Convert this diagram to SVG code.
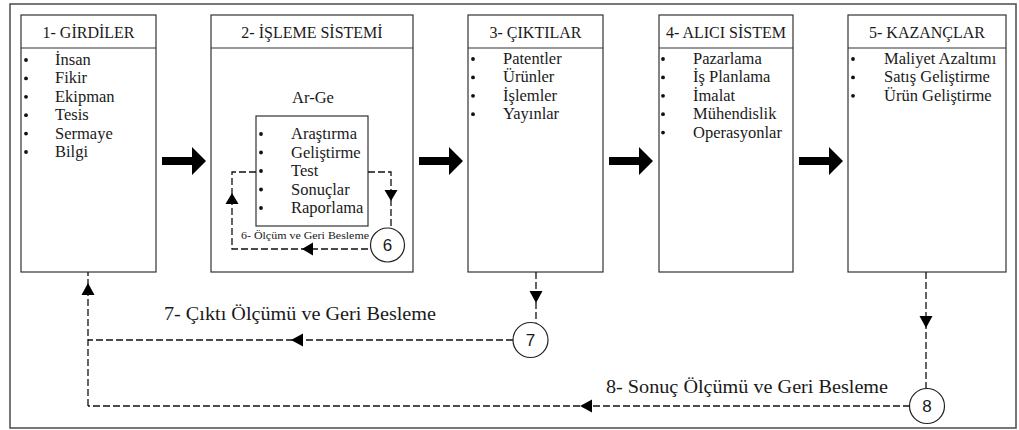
<svg xmlns="http://www.w3.org/2000/svg" width="1019" height="430" viewBox="0 0 1019 430">
<style>
.box{fill:#fff;stroke:#333;stroke-width:1.2}
.frame{fill:#fff;stroke:#555;stroke-width:1.6}
.t{font-family:"Liberation Serif","Times New Roman",serif;fill:#1a1a1a}
.title{font-size:16px;text-anchor:middle}
.item{font-size:16.5px}
.dash{fill:none;stroke:#111;stroke-width:1.3;stroke-dasharray:7,3}
.circ{fill:#fff;stroke:#222;stroke-width:1.2}
.num{font-family:"Liberation Sans",Arial,sans-serif;font-size:17px;fill:#1a1a1a;text-anchor:middle}
.ah{fill:#000}
.big{fill:#000}
.dot{fill:#111}
</style>
<defs>
<path id="tri" d="M0,0 L-12,-6.5 L-12,6.5 Z"/>
<path id="tris" d="M0,0 L-11,-6.5 L-11,6.5 Z"/>
<path id="bigarrow" d="M0,-4 L30,-4 L30,-14 L44,0 L30,14 L30,4 L0,4 Z"/>
<circle id="bul" r="1.9"/>
</defs>
<rect class="frame" x="10" y="4" width="1006" height="424"/>

<g id="node1">
<rect class="box" x="21" y="15" width="135" height="257"/>
<line x1="21" y1="48" x2="156" y2="48" stroke="#333" stroke-width="1.2"/>
<text class="t title" x="88.5" y="38">1- GİRDİLER</text>
<g class="dot"><use href="#bul" x="26" y="60"/><use href="#bul" x="26" y="78.4"/><use href="#bul" x="26" y="96.8"/><use href="#bul" x="26" y="115.2"/><use href="#bul" x="26" y="133.6"/><use href="#bul" x="26" y="152"/></g>
<text class="t item" x="55" y="65">İnsan</text>
<text class="t item" x="55" y="83.4">Fikir</text>
<text class="t item" x="55" y="101.8">Ekipman</text>
<text class="t item" x="55" y="120.2">Tesis</text>
<text class="t item" x="55" y="138.6">Sermaye</text>
<text class="t item" x="55" y="157">Bilgi</text>
</g>

<g id="node2">
<rect class="box" x="211" y="15" width="202" height="257"/>
<line x1="211" y1="48" x2="413" y2="48" stroke="#333" stroke-width="1.2"/>
<text class="t title" x="312" y="38">2- İŞLEME SİSTEMİ</text>
<text class="t" x="313" y="103" font-size="16.5" text-anchor="middle">Ar-Ge</text>
</g>

<g id="node2-arge">
<rect class="box" x="256" y="116" width="112" height="110"/>
<g class="dot"><use href="#bul" x="261" y="134"/><use href="#bul" x="261" y="152.5"/><use href="#bul" x="261" y="171"/><use href="#bul" x="261" y="189.5"/><use href="#bul" x="261" y="208"/></g>
<text class="t item" x="291" y="139">Araştırma</text>
<text class="t item" x="291" y="157.5">Geliştirme</text>
<text class="t item" x="291" y="176">Test</text>
<text class="t item" x="291" y="194.5">Sonuçlar</text>
<text class="t item" x="291" y="213">Raporlama</text>
<text class="t" x="241" y="239" font-size="11" textLength="128" lengthAdjust="spacingAndGlyphs">6- Ölçüm ve Geri Besleme</text>
</g>

<g id="node3">
<rect class="box" x="468" y="15" width="135" height="257"/>
<line x1="468" y1="48" x2="603" y2="48" stroke="#333" stroke-width="1.2"/>
<text class="t title" x="535.5" y="38">3- ÇIKTILAR</text>
<g class="dot"><use href="#bul" x="473" y="59"/><use href="#bul" x="473" y="77.4"/><use href="#bul" x="473" y="95.8"/><use href="#bul" x="473" y="114.2"/></g>
<text class="t item" x="503" y="64">Patentler</text>
<text class="t item" x="503" y="82.4">Ürünler</text>
<text class="t item" x="503" y="100.8">İşlemler</text>
<text class="t item" x="503" y="119.2">Yayınlar</text>
</g>

<g id="node4">
<rect class="box" x="659" y="15" width="134" height="257"/>
<line x1="659" y1="48" x2="793" y2="48" stroke="#333" stroke-width="1.2"/>
<text class="t title" x="726" y="38">4- ALICI SİSTEM</text>
<g class="dot"><use href="#bul" x="663" y="59"/><use href="#bul" x="663" y="77.4"/><use href="#bul" x="663" y="95.8"/><use href="#bul" x="663" y="114.2"/><use href="#bul" x="663" y="132.6"/></g>
<text class="t item" x="693" y="64">Pazarlama</text>
<text class="t item" x="693" y="82.4">İş Planlama</text>
<text class="t item" x="693" y="100.8">İmalat</text>
<text class="t item" x="693" y="119.2">Mühendislik</text>
<text class="t item" x="693" y="137.6">Operasyonlar</text>
</g>

<g id="node5">
<rect class="box" x="848" y="15" width="158" height="257"/>
<line x1="848" y1="48" x2="1006" y2="48" stroke="#333" stroke-width="1.2"/>
<text class="t title" x="927" y="38">5- KAZANÇLAR</text>
<g class="dot"><use href="#bul" x="853" y="59"/><use href="#bul" x="853" y="77.4"/><use href="#bul" x="853" y="95.8"/></g>
<text class="t item" x="884" y="64">Maliyet Azaltımı</text>
<text class="t item" x="884" y="82.4">Satış Geliştirme</text>
<text class="t item" x="884" y="100.8">Ürün Geliştirme</text>
</g>

<g id="connectors">
<use href="#bigarrow" class="big" transform="translate(162,161)"/>
<use href="#bigarrow" class="big" transform="translate(419,161)"/>
<use href="#bigarrow" class="big" transform="translate(609,161)"/>
<use href="#bigarrow" class="big" transform="translate(799,161)"/>
<!-- loop 6 -->
<path class="dash" d="M256,172 H232 V249 H370.5"/>
<path class="dash" d="M368,172 H391 V228.5"/>
<use href="#tris" class="ah" transform="translate(232,193) rotate(-90)"/>
<use href="#tris" class="ah" transform="translate(391,201) rotate(90)"/>
<use href="#tris" class="ah" transform="translate(302,249) rotate(180)"/>
<!-- loop 7 -->
<path class="dash" d="M536,272 V322.5"/>
<path class="dash" d="M513,340 H88"/>
<path class="dash" d="M88,406 V272"/>
<use href="#tri" class="ah" transform="translate(536,303) rotate(90)"/>
<use href="#tri" class="ah" transform="translate(291,340) rotate(180)"/>
<use href="#tri" class="ah" transform="translate(88,283) rotate(-90)"/>
<!-- loop 8 -->
<path class="dash" d="M926,272 V388"/>
<path class="dash" d="M910,406 H88"/>
<use href="#tri" class="ah" transform="translate(926,328) rotate(90)"/>
<use href="#tri" class="ah" transform="translate(580,406) rotate(180)"/>
<text class="t" x="164" y="320" font-size="19" textLength="272" lengthAdjust="spacingAndGlyphs">7- Çıktı Ölçümü ve Geri Besleme</text>
<text class="t" x="606" y="393" font-size="19" textLength="282" lengthAdjust="spacingAndGlyphs">8- Sonuç Ölçümü ve Geri Besleme</text>
</g>

<g id="circle6">
<circle class="circ" cx="387.5" cy="245" r="17"/>
<text class="num" x="387.5" y="251">6</text>
</g>

<g id="circle7">
<circle class="circ" cx="530.5" cy="340" r="17.5"/>
<text class="num" x="530.5" y="346">7</text>
</g>

<g id="circle8">
<circle class="circ" cx="927" cy="406" r="17.5"/>
<text class="num" x="927" y="412">8</text>
</g>
</svg>
